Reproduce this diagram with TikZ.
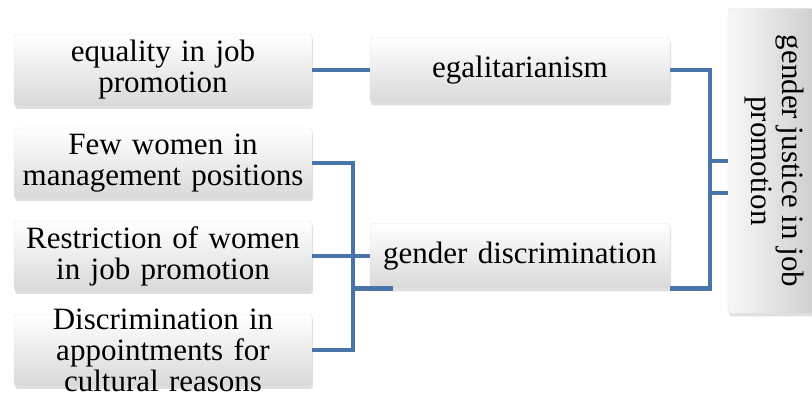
\documentclass[tikz,border=0pt]{standalone}
\usepackage{fontspec}
\setmainfont{Liberation Serif}
\usepackage{xcolor}
\usepackage{tikz}
\usetikzlibrary{positioning,calc,shadows}

\definecolor{linkblue}{RGB}{72,116,170}

\begin{document}
\begin{tikzpicture}[x=1pt,y=-1pt,
		basebox/.style={draw=gray!22, rounded corners=3pt,
			drop shadow={shadow xshift=1pt, shadow yshift=-3pt, opacity=0.25},
			inner sep=0pt, font=\fontsize{31}{31}\selectfont},
		itembox/.style={basebox, top color=white, bottom color=gray!30,
			align=center, text width=290pt},
		goalbox/.style={basebox, left color=gray!6, right color=gray!40},
		conn/.style={linkblue, line width=4.5pt}]
			\useasboundingbox (0,0) rectangle (812,395);
			
			% left column
			\node[itembox, minimum width=298pt, minimum height=72pt] (item1) at (163,70) {equality in job\\promotion};
			\node[itembox, minimum width=298pt, minimum height=70pt] (item2) at (163,163) {Few women in\\management positions};
			\node[itembox, minimum width=298pt, minimum height=70pt] (item3) at (163,256) {Restriction of women\\in job promotion};
			\node[itembox, minimum width=298pt, minimum height=72pt] (item4) at (163,350) {\raisebox{3pt}{\parbox[c][60pt][c]{290pt}{\centering Discrimination in\\appointments for\\cultural reasons}}};
			
			% middle column
			\node[itembox, minimum width=300pt, minimum height=65pt] (mideg) at (520,70) {egalitarianism};
			\node[itembox, minimum width=300pt, minimum height=65pt] (midgd) at (520,256) {gender discrimination};
			
			% right column
			\node[goalbox, minimum width=92pt, minimum height=305pt] (goal) at (774,161)
				{\rotatebox[origin=c]{-90}{\parbox{290pt}{\centering gender justice in job\\promotion}}};
			
			\coordinate (lbus) at (353,0);
			\coordinate (rbus) at (710,0);
			
			\draw[conn] (item1.east) -- (mideg.west);
			\draw[conn] (item2.east) -| (lbus |- item4.east) -- (item4.east);
			\draw[conn] (item3.east) -- (midgd.west);
			\draw[conn] (lbus |- midgd.south) -- ($(midgd.south west)+(23,0)$);
			
			\draw[conn] (mideg.east) -| (rbus |- midgd.south) -- (midgd.south east);
			\draw[conn] (rbus |- goal.west) -- (goal.west);
			\draw[conn] (rbus |- 0,193) -- ($(goal.west)+(0,32)$);
		\end{tikzpicture}
\end{document}
